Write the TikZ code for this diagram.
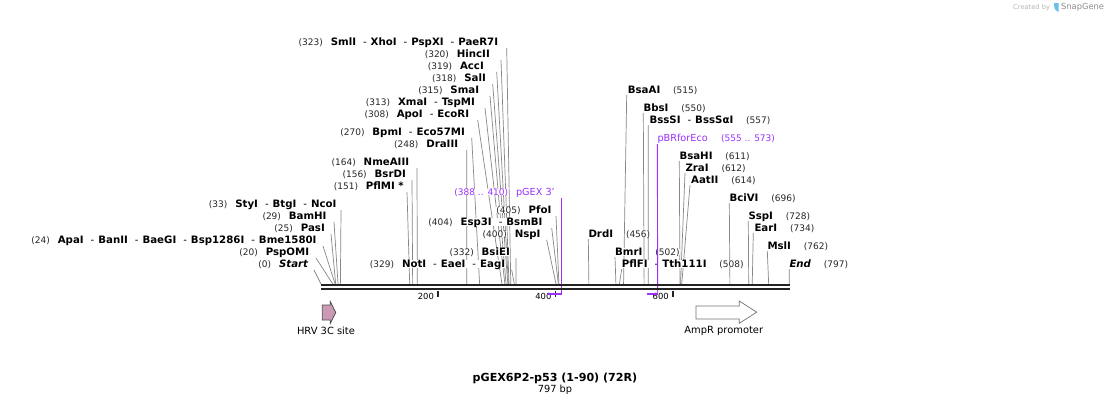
\documentclass[tikz,border=0pt]{standalone}
\usepackage{fontspec}
\setmainfont{DejaVu Sans}
\pgfdeclarelayer{bg}
\pgfsetlayers{bg,main}
\definecolor{cutgray}{RGB}{135,135,135}
\definecolor{bbone}{RGB}{35,35,35}
\definecolor{featpurple}{RGB}{155,48,255}
\definecolor{hrvpink}{RGB}{204,153,180}
\definecolor{sgblue}{RGB}{110,190,235}
\newcommand\dd{\hspace{7pt}{\mdseries -}\hspace{4pt}}
% left label: id, number, names, x of names' right end, y, x of connector top, site (bp)
\newcommand\Lsite[7]{%
  \node[nm, anchor=east] (#1) at (#4,#5) {#3};
  \node[num, anchor=east] (#1n) at ([xshift=-7.5pt]#1.west) {#2};
  \coordinate (#1s) at ({321+0.5875*#7},284);
  \begin{pgfonlayer}{bg}
  \draw[cut] ([shift={(#6-#4,6)}]#1.east) -- (#1s);
  \end{pgfonlayer}
}
% right label: id, names, x of names' left end, y, number, x of connector top, site (bp)
\newcommand\Rsite[7]{%
  \node[nm, anchor=west] (#1) at (#3,#4) {#2};
  \node[num, anchor=west] (#1n) at ([xshift=12.5pt]#1.east) {#5};
  \coordinate (#1s) at ({321+0.5875*#7},284);
  \begin{pgfonlayer}{bg}
  \draw[cut] ([shift={(#6-#3,5)}]#1.west) -- (#1s);
  \end{pgfonlayer}
}
\begin{document}
\begin{tikzpicture}[x=1pt,y=-1pt,
  nm/.style={font=\fontsize{10.2}{12}\selectfont\bfseries, inner sep=0pt, text height=7.4pt, text depth=0pt, fill=white},
  num/.style={font=\fontsize{9}{10}\selectfont, inner sep=0pt, text height=6.5pt, text depth=0pt, text=black!85, fill=white},
  cut/.style={draw=cutgray, line width=0.7pt},
  feat/.style={draw=featpurple, line width=1.8pt},
  featline/.style={draw=featpurple, line width=0.9pt},
  plabel/.style={font=\fontsize{9.7}{11}\selectfont, inner sep=0pt, text height=7pt, text depth=0pt, text=featpurple, fill=white},
  pnum/.style={font=\fontsize{9}{10}\selectfont, inner sep=0pt, text height=6.5pt, text depth=0pt, text=featpurple, fill=white},
  flabel/.style={font=\fontsize{9.9}{11}\selectfont, inner sep=0pt},
  tickl/.style={font=\fontsize{8.4}{9}\selectfont, inner sep=0pt, text height=6pt, text depth=0pt}]
\begin{pgfonlayer}{bg}
\useasboundingbox[fill=white] (0,0) rectangle (1111,405);
\end{pgfonlayer}

% ---- left-side enzyme labels
\Lsite{L1}{(323)}{SmlI\dd XhoI\dd PspXI\dd PaeR7I}{498.3}{42}{506.7}{323}
\Lsite{L2}{(320)}{HincII}{490}{54}{501}{320}
\Lsite{L3}{(319)}{AccI}{484}{66}{496.7}{319}
\Lsite{L4}{(318)}{SalI}{486}{78}{492.7}{318}
\Lsite{L5}{(315)}{SmaI}{479.3}{90}{490}{315}
\Lsite{L6}{(313)}{XmaI\dd TspMI}{475}{102}{485}{313}
\Lsite{L7}{(308)}{ApoI\dd EcoRI}{469.3}{114}{477.7}{308}
\Lsite{L8}{(270)}{BpmI\dd Eco57MI}{465}{132}{471.7}{270}
\Lsite{L9}{(248)}{DraIII}{458.3}{144}{466.7}{248}
\Lsite{L10}{(164)}{NmeAIII}{409.3}{162}{417}{164}
\Lsite{L11}{(156)}{BsrDI}{406}{174}{412}{156}
\Lsite{L12}{(151)}{PflMI *}{404}{186}{407}{151}
\Lsite{L13}{(405)}{PfoI}{551.5}{210}{556}{405}
\Lsite{L14}{(404)}{Esp3I\dd BsmBI}{542.7}{222}{551.7}{404}
\Lsite{L15}{(400)}{NspI}{540.7}{234}{546.7}{400}
\Lsite{L16}{(332)}{BsiEI}{510}{252}{516}{332}
\Lsite{L17}{(329)}{NotI\dd EaeI\dd EagI}{505.3}{264}{511.7}{329}
\Lsite{L18}{(33)}{StyI\dd BtgI\dd NcoI}{336.7}{204}{341}{33}
\Lsite{L19}{(29)}{BamHI}{326.7}{216}{334}{29}
\Lsite{L20}{(25)}{PasI}{325}{228}{331}{25}
\Lsite{L21}{(24)}{ApaI\dd BanII\dd BaeGI\dd Bsp1286I\dd Bme1580I}{316.7}{240}{323}{24}
\Lsite{L22}{(20)}{PspOMI}{309.3}{252}{316}{20}
\Lsite{L23}{(0)}{\itshape Start}{308.3}{264}{314}{0}

% ---- right-side enzyme labels
\Rsite{R1}{BsaAI}{627.7}{90}{(515)}{626.7}{515}
\Rsite{R2}{BbsI}{643.3}{108}{(550)}{643.3}{550}
\Rsite{R3}{BssSI\dd BssSαI}{649.3}{120}{(557)}{648.3}{557}
\Rsite{R4}{BsaHI}{679.3}{156}{(611)}{679.3}{611}
\Rsite{R5}{ZraI}{685.3}{168}{(612)}{685}{612}
\Rsite{R6}{AatII}{691}{180}{(614)}{690}{614}
\Rsite{R7}{BciVI}{729.3}{198}{(696)}{729.3}{696}
\Rsite{R8}{SspI}{748.3}{216}{(728)}{748.3}{728}
\Rsite{R9}{EarI}{754.3}{228}{(734)}{753.3}{734}
\Rsite{R10}{DrdI}{588.3}{234}{(456)}{588.3}{456}
\Rsite{R11}{MslI}{767.3}{246}{(762)}{767.3}{762}
\Rsite{R12}{BmrI}{615}{252}{(502)}{615}{502}
\Rsite{R13}{PflFI\dd Tth111I}{621.7}{264}{(508)}{621.7}{508}
\Rsite{R14}{\itshape End}{789.3}{264}{(797)}{789.3}{797}

% ---- primer features (purple)
\node[plabel, anchor=east] (pg) at (555,192) {pGEX 3'};
\node[pnum, anchor=east] (pgn) at ([xshift=-7.4pt]pg.west) {(388 .. 410)};
\coordinate (pgA) at (548.3,294);
\coordinate (pgB) at (561.7,294);
\draw[featline] ([shift={(6.7,6)}]pg.east) -- (pgB);
\node[plabel, anchor=west] (pb) at (657.3,138) {pBRforEco};
\node[pnum, anchor=west] (pbn) at ([xshift=13pt]pb.east) {(555 .. 573)};
\coordinate (pbA) at (646.7,294);
\coordinate (pbB) at (657.7,294);
\draw[featline] ([shift={(0,6)}]pb.west) -- (pbB);

% ---- backbone
\coordinate (bbL) at (321,285.2);
\coordinate (bbR) at (790,285.2);
\draw[bbone, line width=2.3pt] (bbL) -- (bbR);
\draw[bbone, line width=2.3pt] ([yshift=-4.1pt]bbL) -- ([yshift=-4.1pt]bbR);
\foreach \t/\x in {200/437.9, 400/555.4, 600/672.7}{
  \draw[bbone, line width=1.7pt] (\x,290.5) -- (\x,297);
  \node[tickl, anchor=east] at (\x-3.8,296.5) {\t};
}
\draw[feat] (pgA) -- (pgB);
\draw[feat] (pbA) -- (pbB);

% ---- features
\draw[draw=black!70, fill=hrvpink, line width=0.8pt, line join=miter]
  (322.3,305) -- (330.3,305) -- (330.3,301.7) -- (335.7,312.5) -- (330.3,323.3) -- (330.3,320) -- (322.3,320) -- cycle;
\node[flabel] (hrv) at (326,331) {HRV 3C site};
\draw[draw=black!55, fill=white, line width=0.7pt, line join=miter]
  (696,306) -- (739.3,306) -- (739.3,301) -- (756.7,312.2) -- (739.3,323.3) -- (739.3,319) -- (696,319) -- cycle;
\node[flabel] (amp) at (723.8,331) {AmpR promoter};

% ---- title
\node[font=\fontsize{11.1}{12}\selectfont\bfseries, inner sep=0pt] (title) at (555,378) {pGEX6P2-p53 (1-90) (72R)};
\node[font=\fontsize{9.8}{11}\selectfont, inner sep=0pt] (bp) at (555,389.5) {797 bp};

% ---- credit
\node[font=\fontsize{6.7}{7}\selectfont, text=black!28, inner sep=0pt, anchor=west] (cb) at (1013,7.5) {Created by};
\fill[sgblue] (1054,3) -- (1058.5,3) -- (1058.5,12) .. controls (1056,11) and (1054,9) .. (1054,6) -- cycle;
\node[font=\fontsize{8.3}{9}\selectfont, text=black!45, inner sep=0pt, anchor=west] (sg) at (1061,7.5) {SnapGene};
\end{tikzpicture}
\end{document}
